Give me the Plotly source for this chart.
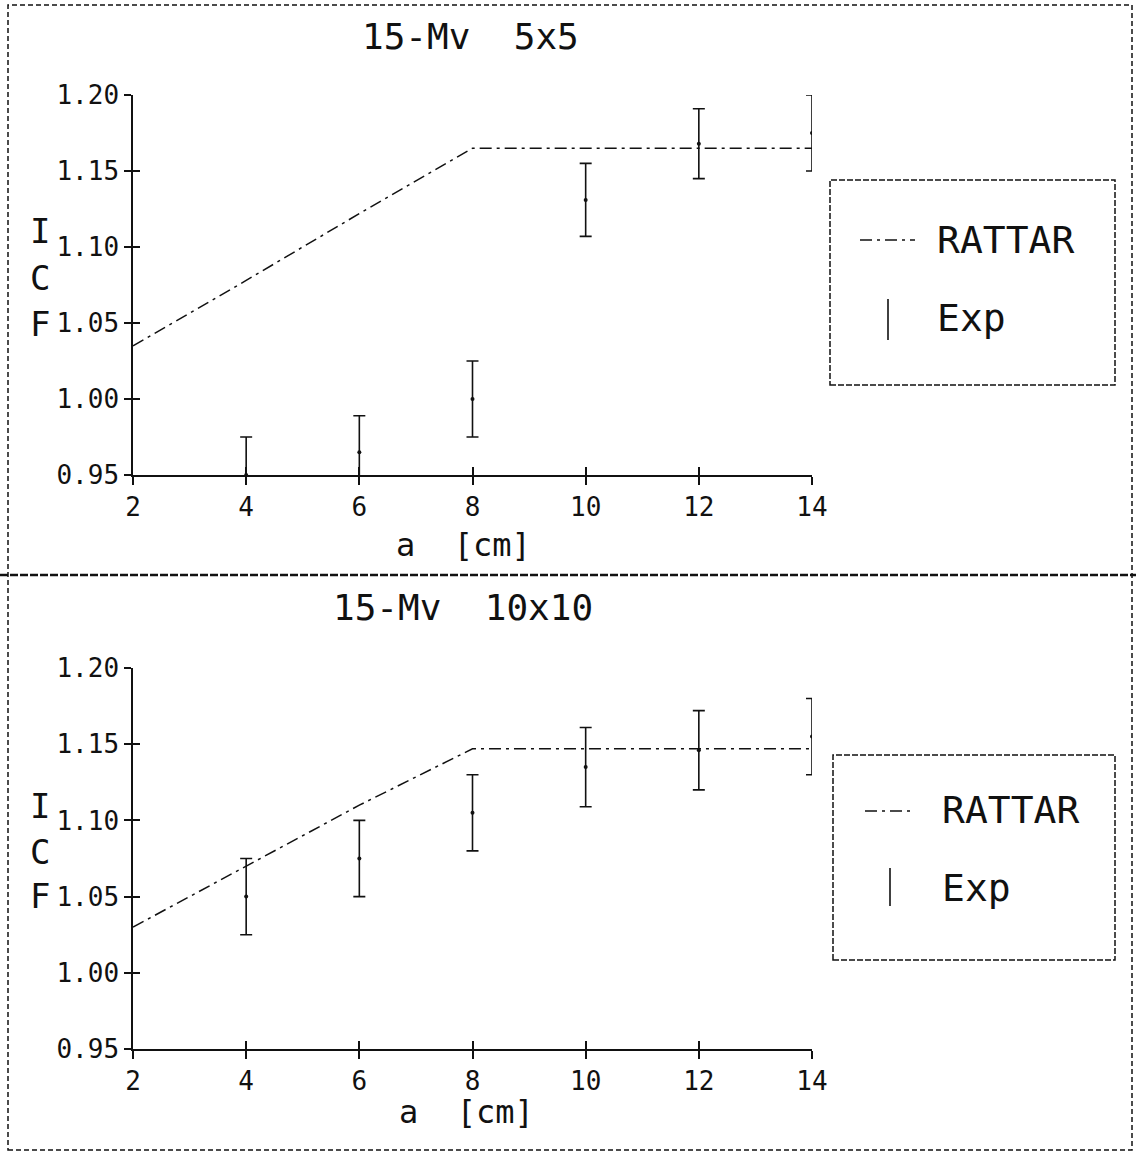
import plotly.graph_objects as go

# ---------------- data ----------------
a_cm = [2, 4, 6, 8, 10, 12, 14]
rattar_5x5 = [1.035, 1.078, 1.122, 1.165, 1.165, 1.165, 1.165]
rattar_10x10 = [1.030, 1.070, 1.110, 1.147, 1.147, 1.147, 1.147]

exp_a = [4, 6, 8, 10, 12, 14]
exp_5x5 = [0.950, 0.965, 1.000, 1.131, 1.168, 1.175]
exp_5x5_err = [0.025, 0.024, 0.025, 0.024, 0.023, 0.025]
exp_10x10 = [1.050, 1.075, 1.105, 1.135, 1.146, 1.155]
exp_10x10_err = [0.025, 0.025, 0.025, 0.026, 0.026, 0.025]

x_ticks = [2, 4, 6, 8, 10, 12, 14]
y_ticks = [0.95, 1.00, 1.05, 1.10, 1.15, 1.20]
y_tick_text = ["0.95", "1.00", "1.05", "1.10", "1.15", "1.20"]

titles = ["15-Mv  5x5", "15-Mv  10x10"]
x_title = "a  [cm]"
legend_names = ["RATTAR", "Exp"]

# ---------------- layout helpers ----------------
W, H = 1136, 1153
FONT = "DejaVu Sans Mono"
INK = "#111111"


def px(x):
    return x / W


def py(y):
    return 1 - y / H


X_DOM = [px(133), px(812)]
Y_DOM_TOP = [py(475), py(95)]
Y_DOM_BOT = [py(1049), py(668)]

DASH = "12px,5px,3px,5px"

fig = go.Figure()

panels = [
    dict(rattar=rattar_5x5, exp=exp_5x5, err=exp_5x5_err, xa="x", ya="y"),
    dict(rattar=rattar_10x10, exp=exp_10x10, err=exp_10x10_err, xa="x2", ya="y2"),
]

for p in panels:
    fig.add_trace(go.Scatter(
        x=a_cm, y=p["rattar"], mode="lines", name=legend_names[0],
        line=dict(color=INK, width=1.5, dash=DASH),
        xaxis=p["xa"], yaxis=p["ya"], showlegend=False, cliponaxis=True))
    fig.add_trace(go.Scatter(
        x=exp_a, y=p["exp"], mode="markers", name=legend_names[1],
        marker=dict(color=INK, size=4),
        error_y=dict(type="data", array=p["err"], visible=True,
                     color=INK, thickness=1.6, width=6),
        xaxis=p["xa"], yaxis=p["ya"], showlegend=False, cliponaxis=True))

# invisible traces so the overlay axes (inside ticks -> cross ticks) exist
fig.add_trace(go.Scatter(x=[None], y=[None], xaxis="x3", yaxis="y3",
                         showlegend=False, hoverinfo="skip"))
fig.add_trace(go.Scatter(x=[None], y=[None], xaxis="x4", yaxis="y4",
                         showlegend=False, hoverinfo="skip"))

tickfont = dict(family=FONT, size=26, color=INK)


def xaxis_main(anchor):
    return dict(domain=X_DOM, range=[2, 14], anchor=anchor, automargin=False,
                tickmode="array", tickvals=x_ticks, ticktext=[str(v) for v in x_ticks],
                ticks="outside", ticklen=8, tickwidth=1.5, tickcolor=INK,
                showline=True, linecolor=INK, linewidth=1.5,
                showgrid=False, zeroline=False, tickfont=tickfont)


def yaxis_main(anchor, dom):
    return dict(domain=dom, range=[0.95, 1.20], anchor=anchor, automargin=False,
                tickmode="array", tickvals=y_ticks, ticktext=y_tick_text,
                ticks="outside", ticklen=7, tickwidth=1.5, tickcolor=INK,
                showline=True, linecolor=INK, linewidth=1.5,
                showgrid=False, zeroline=False, tickfont=tickfont)


def x_overlay(base, anchor):
    return dict(overlaying=base, range=[2, 14], anchor=anchor, automargin=False,
                tickmode="array", tickvals=x_ticks, showticklabels=False,
                ticks="inside", ticklen=8, tickwidth=1.5, tickcolor=INK,
                showline=False, showgrid=False, zeroline=False)


def y_overlay(base, anchor):
    return dict(overlaying=base, range=[0.95, 1.20], anchor=anchor, automargin=False,
                tickmode="array", tickvals=y_ticks, showticklabels=False,
                ticks="inside", ticklen=7, tickwidth=1.5, tickcolor=INK,
                showline=False, showgrid=False, zeroline=False)


fig.update_layout(
    width=W, height=H, autosize=False,
    margin=dict(l=0, r=0, t=0, b=0, pad=0, autoexpand=False),
    paper_bgcolor="white", plot_bgcolor="white",
    showlegend=False,
    xaxis=xaxis_main("y"),
    yaxis=yaxis_main("x", Y_DOM_TOP),
    xaxis2=xaxis_main("y2"),
    yaxis2=yaxis_main("x2", Y_DOM_BOT),
    xaxis3=x_overlay("x", "y"),
    yaxis3=y_overlay("y", "x"),
    xaxis4=x_overlay("x2", "y2"),
    yaxis4=y_overlay("y2", "x2"),
)

annotations = []
shapes = []


def text(s, x, y, size, xanchor="center"):
    annotations.append(dict(text=s, x=px(x), y=py(y), xref="paper", yref="paper",
                            xanchor=xanchor, yanchor="middle", showarrow=False,
                            font=dict(family=FONT, size=size, color=INK)))


# titles and axis titles
text(titles[0], 470, 37, 36)
text(titles[1], 463, 607, 36)
text(x_title, 463, 545, 32)
text(x_title, 466, 1112, 32)

# stacked y-axis title letters
for (letter, ytop, ybot) in zip("ICF", [231, 278, 324], [806, 852, 896]):
    text(letter, 40, ytop, 34)
    text(letter, 40, ybot, 34)

# legend boxes (drawn by hand to match the plotter style)
legends = [
    dict(box=(830, 180, 1115, 385), line=(860, 915, 240), bar=(888, 299, 340),
         tx=935, ty=(240, 318)),
    dict(box=(833, 755, 1115, 960), line=(865, 915, 811), bar=(890, 868, 906),
         tx=940, ty=(810, 888)),
]
for lg in legends:
    x0, y0, x1, y1 = lg["box"]
    shapes.append(dict(type="rect", xref="paper", yref="paper",
                       x0=px(x0), x1=px(x1), y0=py(y1), y1=py(y0),
                       line=dict(color=INK, width=1.5, dash="6px,2px")))
    lx0, lx1, ly = lg["line"]
    shapes.append(dict(type="line", xref="paper", yref="paper",
                       x0=px(lx0), x1=px(lx1), y0=py(ly), y1=py(ly),
                       line=dict(color=INK, width=1.5, dash=DASH)))
    bx, by0, by1 = lg["bar"]
    shapes.append(dict(type="line", xref="paper", yref="paper",
                       x0=px(bx), x1=px(bx), y0=py(by0), y1=py(by1),
                       line=dict(color=INK, width=1.6)))
    text(legend_names[0], lg["tx"], lg["ty"][0], 38, xanchor="left")
    text(legend_names[1], lg["tx"], lg["ty"][1], 38, xanchor="left")

# page frame and separator
shapes.append(dict(type="rect", xref="paper", yref="paper",
                   x0=px(8), x1=px(1132), y0=py(1150), y1=py(5),
                   line=dict(color=INK, width=1.5, dash="5px,3px")))
shapes.append(dict(type="line", xref="paper", yref="paper",
                   x0=0, x1=1, y0=py(575), y1=py(575),
                   line=dict(color=INK, width=2.5, dash="8px,2px")))

fig.update_layout(annotations=annotations, shapes=shapes)

fig.write_html("out.html",
               config={"displayModeBar": False},
               post_script="document.body.style.margin='0';"
                           "document.body.style.overflow='hidden';")
